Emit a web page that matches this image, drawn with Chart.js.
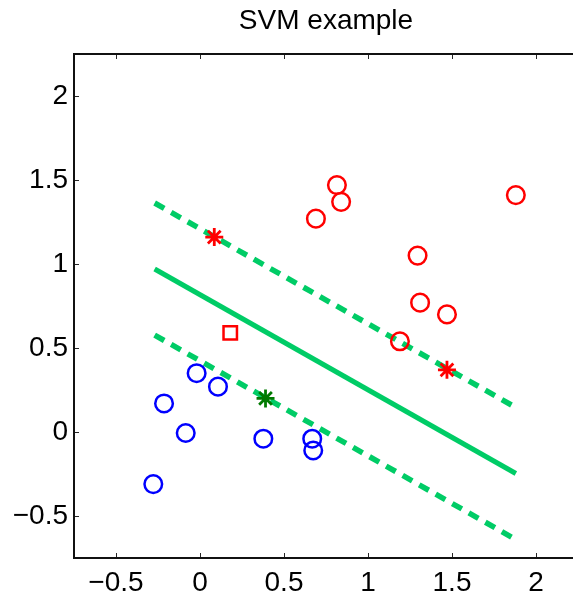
<!DOCTYPE html>
<html>
<head>
<meta charset="utf-8">
<title>SVM example</title>
<script src="https://cdn.jsdelivr.net/npm/chart.js@4.4.1/dist/chart.umd.min.js"></script>
<style>
  html, body { margin: 0; padding: 0; background: #fff; overflow: hidden; }
  canvas { display: block; }
</style>
</head>
<body>
<canvas id="svmChart" width="590" height="595"></canvas>
<script>
// 图表数据
const titleText = 'SVM example';
const xTicks = [-0.5, 0, 0.5, 1, 1.5, 2];
const yTicks = [-0.5, 0, 0.5, 1, 1.5, 2];

// 正类（红色圆圈）
const redX = [0.815, 0.84, 0.69, 1.88, 1.295, 1.31, 1.47, 1.19];
const redY = [1.47, 1.37, 1.27, 1.41, 1.05, 0.77, 0.70, 0.54];
// 负类（蓝色圆圈）
const blueX = [-0.02, 0.107, -0.214, -0.085, -0.278, 0.377, 0.668, 0.674];
const blueY = [0.35, 0.27, 0.17, -0.006, -0.31, -0.04, -0.04, -0.11];
// 红色星号、红色方块、绿色星号
const redStarX = [0.085, 1.47];
const redStarY = [1.16, 0.37];
const squareX = [0.18];
const squareY = [0.59];
const greenStarX = [0.39];
const greenStarY = [0.20];
// 分隔线与间隔线
const lineX = [-0.27, 1.88];
const solidY = [0.97, -0.247];
const upperY = [1.363, 0.146];
const lowerY = [0.577, -0.64];

const toPoints = (xs, ys) => xs.map((x, i) => ({ x: x, y: ys[i] }));
const fmt = v => (v < 0 ? '\u2212' + Math.abs(v) : String(v));
const fontFamily = '"Liberation Sans", Arial, Helvetica, sans-serif';
const lineGreen = 'rgb(0, 204, 102)';

// 边框、向内刻度和标题
const frameTicks = {
  id: 'frameTicks',
  afterDraw(chart) {
    const { ctx, chartArea: a, scales: { x, y } } = chart;
    ctx.save();
    ctx.strokeStyle = '#262626';
    ctx.lineWidth = 1;
    ctx.beginPath();
    xTicks.forEach(v => {
      const px = Math.round(x.getPixelForValue(v)) + 0.5;
      ctx.moveTo(px, a.bottom); ctx.lineTo(px, a.bottom - 5);
      ctx.moveTo(px, a.top); ctx.lineTo(px, a.top + 5);
    });
    yTicks.forEach(v => {
      const py = Math.round(y.getPixelForValue(v)) + 0.5;
      ctx.moveTo(a.left, py); ctx.lineTo(a.left + 5, py);
      ctx.moveTo(a.right, py); ctx.lineTo(a.right - 5, py);
    });
    ctx.stroke();
    ctx.strokeStyle = '#111';
    ctx.lineWidth = 2;
    ctx.strokeRect(a.left, a.top, a.right - a.left, a.bottom - a.top);
    ctx.fillStyle = '#000';
    ctx.font = '28px ' + fontFamily;
    ctx.textAlign = 'center';
    ctx.textBaseline = 'alphabetic';
    ctx.fillText(titleText, (a.left + a.right) / 2, 29);
    ctx.restore();
  }
};

document.addEventListener('DOMContentLoaded', function () {
  const ctx = document.getElementById('svmChart').getContext('2d');

  new Chart(ctx, {
    type: 'scatter',
    data: {
      datasets: [
        {
          label: 'positive', data: toPoints(redX, redY), order: 1,
          pointStyle: 'circle', pointRadius: 8.8, borderWidth: 2.5,
          borderColor: '#ff0000', backgroundColor: 'rgba(0,0,0,0)'
        },
        {
          label: 'negative', data: toPoints(blueX, blueY), order: 1,
          pointStyle: 'circle', pointRadius: 8.8, borderWidth: 2.5,
          borderColor: '#0000ff', backgroundColor: 'rgba(0,0,0,0)'
        },
        {
          label: 'red star', data: toPoints(redStarX, redStarY), order: 1,
          pointStyle: 'star', pointRadius: 9, borderWidth: 2.8,
          borderColor: '#ff0000', backgroundColor: '#ff0000'
        },
        {
          label: 'square', data: toPoints(squareX, squareY), order: 1,
          pointStyle: 'rect', pointRadius: 9.5, borderWidth: 2.5,
          borderColor: '#ff0000', backgroundColor: 'rgba(0,0,0,0)'
        },
        {
          label: 'green star', data: toPoints(greenStarX, greenStarY), order: 0,
          pointStyle: 'star', pointRadius: 9, borderWidth: 2.8,
          borderColor: '#007a00', backgroundColor: '#007a00'
        },
        {
          label: 'boundary', data: toPoints(lineX, solidY), order: 2,
          showLine: true, pointRadius: 0, borderWidth: 5,
          borderColor: lineGreen, borderCapStyle: 'butt'
        },
        {
          label: 'margin +', data: toPoints(lineX, upperY), order: 2,
          showLine: true, pointRadius: 0, borderWidth: 5.5,
          borderColor: lineGreen, borderDash: [11, 8], borderCapStyle: 'butt'
        },
        {
          label: 'margin -', data: toPoints(lineX, lowerY), order: 2,
          showLine: true, pointRadius: 0, borderWidth: 5.5,
          borderColor: lineGreen, borderDash: [11, 8], borderCapStyle: 'butt'
        }
      ]
    },
    options: {
      responsive: false,
      animation: false,
      devicePixelRatio: 1,
      // 画布比窗口宽，绘图区右框落在窗口外（参考图右侧被裁掉）
      layout: { padding: { top: 54, right: 0, left: 0, bottom: 0 } },
      scales: {
        x: {
          type: 'linear', min: -0.75, max: 2.25,
          afterBuildTicks: scale => { scale.ticks = xTicks.map(v => ({ value: v })); },
          afterFit: scale => { scale.height = 37; },
          grid: { display: false, drawTicks: false },
          border: { display: false },
          ticks: {
            padding: 8, color: '#000', maxRotation: 0,
            font: { size: 28, family: fontFamily },
            callback: v => fmt(v)
          }
        },
        y: {
          type: 'linear', min: -0.75, max: 2.25,
          afterBuildTicks: scale => { scale.ticks = yTicks.map(v => ({ value: v })); },
          afterFit: scale => { scale.width = 74; },
          grid: { display: false, drawTicks: false },
          border: { display: false },
          ticks: {
            padding: 6, color: '#000',
            font: { size: 28, family: fontFamily },
            callback: v => fmt(v)
          }
        }
      },
      plugins: {
        legend: { display: false },
        tooltip: { enabled: false }
      }
    },
    plugins: [frameTicks]
  });
});
</script>
</body>
</html>
